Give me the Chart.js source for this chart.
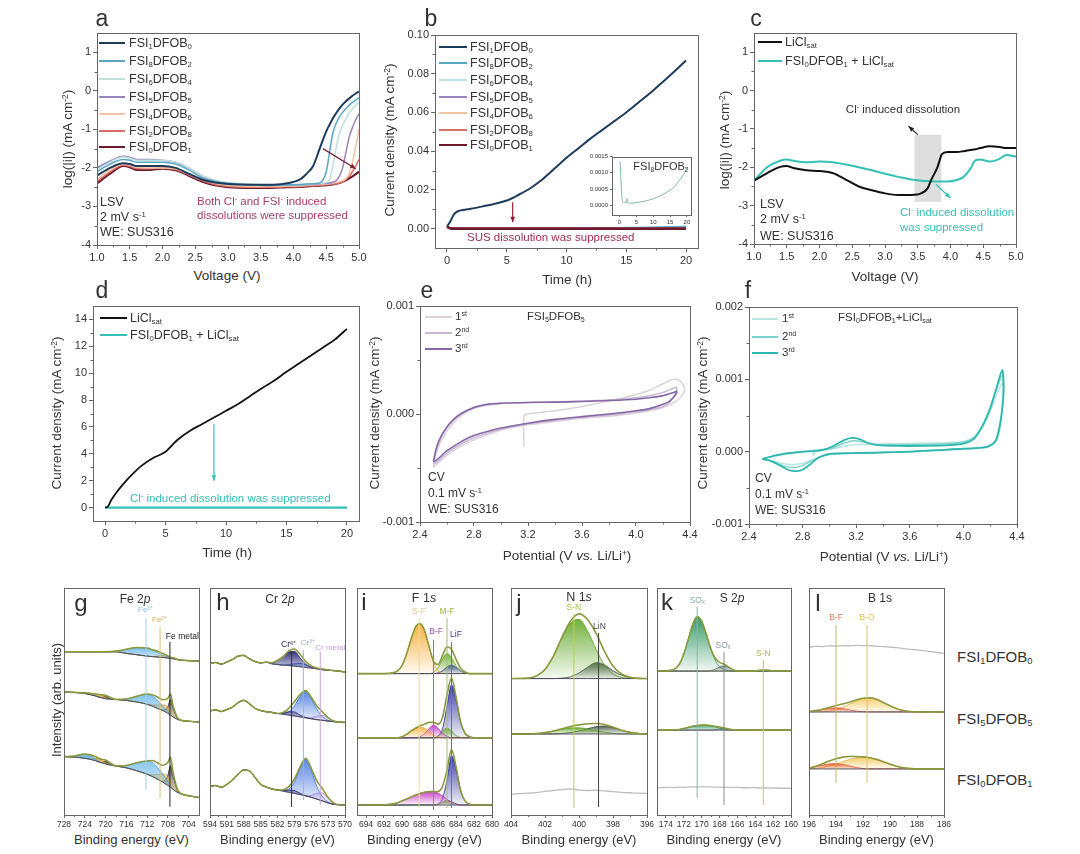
<!DOCTYPE html>
<html><head><meta charset="utf-8">
<script src="https://cdn.jsdelivr.net/npm/chart.js@4.4.1/dist/chart.umd.min.js"></script>
<style>
body{margin:0;background:#fff;width:1080px;height:854px;position:relative;overflow:hidden;font-family:"Liberation Sans",Arial,sans-serif;color:#333}
canvas{position:absolute}
.t{position:absolute;white-space:nowrap;line-height:1}
sup{font-size:62%;vertical-align:0.55em;line-height:0}
sub{font-size:62%;vertical-align:-0.3em;line-height:0}
.ln{position:absolute}
</style></head><body>
<script>
// ---------- panel a : LSV ----------
const aV=[1.0,1.2,1.4,1.5,1.6,1.8,2.0,2.2,2.4,2.6,2.8,3.0,3.3,3.6,3.9,4.1,4.2,4.3,4.4,4.5,4.55,4.6,4.65,4.7,4.75,4.8,4.85,4.9,4.95,5.0];
const aNames=['FSI<sub>1</sub>DFOB<sub>0</sub>','FSI<sub>8</sub>DFOB<sub>2</sub>','FSI<sub>6</sub>DFOB<sub>4</sub>','FSI<sub>5</sub>DFOB<sub>5</sub>','FSI<sub>4</sub>DFOB<sub>6</sub>','FSI<sub>2</sub>DFOB<sub>8</sub>','FSI<sub>0</sub>DFOB<sub>1</sub>'];
const a1=[-2.2,-2.0,-1.88,-1.9,-1.95,-1.95,-1.95,-2.0,-2.15,-2.3,-2.38,-2.42,-2.44,-2.44,-2.4,-2.3,-2.15,-1.95,-1.5,-1.05,-0.88,-0.72,-0.58,-0.46,-0.36,-0.27,-0.2,-0.13,-0.07,-0.02];
const a2=[-2.1,-1.9,-1.78,-1.8,-1.85,-1.85,-1.85,-1.9,-2.05,-2.25,-2.35,-2.4,-2.43,-2.45,-2.44,-2.43,-2.42,-2.41,-2.39,-2.1,-1.6,-1.1,-0.85,-0.68,-0.56,-0.46,-0.37,-0.3,-0.24,-0.18];
const a3=[-2.05,-1.85,-1.72,-1.75,-1.8,-1.8,-1.8,-1.85,-2.0,-2.2,-2.32,-2.38,-2.42,-2.44,-2.44,-2.43,-2.42,-2.41,-2.4,-2.38,-2.3,-1.95,-1.5,-1.1,-0.9,-0.72,-0.58,-0.47,-0.38,-0.3];
const a4=[-2.0,-1.82,-1.7,-1.72,-1.78,-1.78,-1.8,-1.85,-2.0,-2.2,-2.33,-2.4,-2.44,-2.46,-2.45,-2.44,-2.43,-2.42,-2.41,-2.4,-2.39,-2.37,-2.33,-2.22,-2.0,-1.6,-1.2,-0.95,-0.75,-0.6];
const a5=[-2.3,-2.05,-1.9,-1.92,-1.98,-2.0,-2.0,-2.02,-2.15,-2.3,-2.4,-2.45,-2.48,-2.48,-2.47,-2.46,-2.45,-2.44,-2.43,-2.42,-2.41,-2.4,-2.38,-2.36,-2.33,-2.28,-2.15,-1.85,-1.45,-1.0];
const a6=[-2.35,-2.1,-1.93,-1.96,-2.02,-2.02,-2.0,-2.04,-2.18,-2.33,-2.43,-2.48,-2.5,-2.5,-2.49,-2.48,-2.47,-2.46,-2.45,-2.44,-2.43,-2.42,-2.41,-2.39,-2.36,-2.3,-2.22,-2.1,-1.95,-1.78];
const a7=[-2.4,-2.15,-1.95,-1.98,-2.05,-2.05,-2.02,-2.06,-2.2,-2.35,-2.45,-2.5,-2.52,-2.52,-2.5,-2.49,-2.48,-2.47,-2.46,-2.45,-2.44,-2.43,-2.41,-2.39,-2.36,-2.32,-2.27,-2.22,-2.16,-2.1];
const aCols=['#1d3c5c','#5aa6c6','#bfe0dc','#9a84bc','#f2c4a4','#d9706a','#6e1a2c'];
const aW=[2,1.5,1.5,1.5,1.5,1.5,2.2];
const vTicks=[1.0,1.5,2.0,2.5,3.0,3.5,4.0,4.5,5.0];
const vLabels=['1.0','1.5','2.0','2.5','3.0','3.5','4.0','4.5','5.0'];
const logTicks=[-4,-3,-2,-1,0,1];
const logLabels=['-4','-3','-2','-1','0','1'];

// ---------- panel b : chronoamperometry ----------
const bT=[0,0.3,0.6,1,1.5,2,3,4,5,6,7,8,9,10,11,12,13,14,15,16,17,18,19,20];
const b1=[0.001,0.004,0.0075,0.0092,0.0098,0.0103,0.0115,0.0128,0.0145,0.0175,0.021,0.0255,0.031,0.0366,0.0415,0.0465,0.051,0.0555,0.060,0.065,0.070,0.0755,0.081,0.0868];
const b2=[0.0013,0.0003,0.0001,0.0001,0.0001,0.0001,0.0001,0.0001,0.0001,0.00012,0.00014,0.00017,0.0002,0.00025,0.0003,0.00035,0.0004,0.00047,0.00055,0.00063,0.00073,0.00085,0.00098,0.0011];
const b3=[0.001,0.0002,0.0001,0.0001,0.0001,0.0001,0.0001,0.0001,0.0001,0.0001,0.0001,0.0001,0.0001,0.0001,0.0001,0.00012,0.00013,0.00014,0.00016,0.00018,0.0002,0.00022,0.00025,0.0003];
const b4=[0.001,0.0001,0.00005,0.00005,0.00005,0.00005,0.00005,0.00005,0.00005,0.00005,0.00005,0.00005,0.00005,0.00005,0.00005,0.00005,0.00005,0.00006,0.00006,0.00007,0.00008,0.00009,0.0001,0.00012];
const b5=[0.001,0.0001,0.00004,0.00004,0.00004,0.00004,0.00004,0.00004,0.00004,0.00004,0.00004,0.00004,0.00004,0.00004,0.00004,0.00004,0.00004,0.00004,0.00004,0.00005,0.00005,0.00005,0.00006,0.00006];
const b6=[0.001,0.0001,0.00003,0.00003,0.00003,0.00003,0.00003,0.00003,0.00003,0.00003,0.00003,0.00003,0.00003,0.00003,0.00003,0.00003,0.00003,0.00003,0.00003,0.00003,0.00003,0.00003,0.00003,0.00003];
const b7=[0.001,0.0001,0.00002,0.00002,0.00002,0.00002,0.00002,0.00002,0.00002,0.00002,0.00002,0.00002,0.00002,0.00002,0.00002,0.00002,0.00002,0.00002,0.00002,0.00002,0.00002,0.00002,0.00002,0.00002];
const bInT=[0.2,0.4,0.7,1,1.5,2,2.2,2.5,3,4,5,6,8,10,12,14,16,18,19,20];
const bInV=[0.00135,0.0009,0.0003,0.0001,0.00008,0.00009,0.0002,0.00008,0.00006,0.00007,0.00008,0.0001,0.00014,0.0002,0.00029,0.0004,0.00055,0.0008,0.00095,0.00115];
const tTicks=[0,5,10,15,20];
const tLabels=['0','5','10','15','20'];
const bYTicks=[0,0.02,0.04,0.06,0.08,0.10];
const bYLabels=['0.00','0.02','0.04','0.06','0.08','0.10'];
const bInYTicks=[0,0.0005,0.001,0.0015];
const bInYLabels=['0.0000','0.0005','0.0010','0.0015'];

// ---------- panel c ----------
const cV=[1.0,1.2,1.4,1.5,1.6,1.8,2.0,2.2,2.4,2.6,2.8,3.0,3.2,3.4,3.55,3.65,3.7,3.8,3.87,3.95,4.1,4.2,4.3,4.38,4.45,4.6,4.75,4.85,5.0];
const cLiCl=[-2.35,-2.15,-1.99,-1.97,-2.02,-2.08,-2.1,-2.15,-2.32,-2.5,-2.6,-2.68,-2.72,-2.72,-2.68,-2.55,-2.35,-2.0,-1.66,-1.6,-1.6,-1.58,-1.55,-1.53,-1.5,-1.45,-1.47,-1.5,-1.5];
const cMix=[-2.35,-2.0,-1.83,-1.8,-1.83,-1.87,-1.85,-1.87,-1.93,-2.0,-2.08,-2.17,-2.25,-2.32,-2.35,-2.36,-2.37,-2.37,-2.37,-2.37,-2.33,-2.25,-2.05,-1.82,-1.8,-1.85,-1.78,-1.68,-1.72];

// ---------- panel d ----------
const dT=[0,0.2,0.5,1,1.5,2,2.5,3,4,5,5.5,6,7,8,9,10,11,12,13,14,15,16,17,18,19,20];
const dLiCl=[0,0.05,0.55,1.2,1.75,2.25,2.7,3.1,3.7,4.15,4.6,5.05,5.7,6.2,6.7,7.2,7.7,8.3,8.9,9.45,10.1,10.7,11.3,11.9,12.5,13.3];
const dMixT=[0,20];
const dMix=[0,0];
const dYTicks=[0,2,4,6,8,10,12,14];
const dYLabels=['0','2','4','6','8','10','12','14'];

// ---------- panel e (CV, FSI5DFOB5) ----------
const eC1=[[3.17,-0.0003],[3.17,-0.00002],[3.2,0.0],[3.4,0.00003],[3.6,0.00007],[3.8,0.00012],[4.0,0.00018],[4.1,0.00022],[4.2,0.00028],[4.25,0.00031],[4.3,0.00032],[4.34,0.00029],[4.36,0.00022],[4.34,0.00017],[4.3,0.00012],[4.2,0.00006],[4.1,0.00003],[4.0,0.00001],[3.8,-0.00002],[3.6,-0.00004],[3.4,-0.00007],[3.2,-0.0001],[3.0,-0.00015],[2.8,-0.00024],[2.7,-0.0003],[2.6,-0.00038],[2.52,-0.00047],[2.5,-0.00049],[2.52,-0.00036],[2.56,-0.00024],[2.62,-0.00012],[2.7,-0.00002],[2.8,0.00005],[2.9,0.00008],[3.0,0.00009]];
const eC2=[[2.5,-0.00046],[2.52,-0.00034],[2.55,-0.00023],[2.6,-0.00012],[2.65,-0.00005],[2.7,0.0],[2.8,0.00006],[2.9,0.00009],[3.0,0.0001],[3.2,0.000107],[3.4,0.00011],[3.6,0.00012],[3.8,0.00013],[4.0,0.00015],[4.1,0.00017],[4.2,0.0002],[4.28,0.00024],[4.3,0.00025],[4.3,0.00021],[4.25,0.00011],[4.2,0.00007],[4.1,0.00004],[4.0,0.00002],[3.8,-0.00001],[3.6,-0.00003],[3.4,-0.00006],[3.2,-0.00009],[3.0,-0.00014],[2.8,-0.00022],[2.7,-0.00028],[2.6,-0.00036],[2.52,-0.00045],[2.5,-0.00046]];
const eC3=[[2.5,-0.00044],[2.52,-0.00032],[2.55,-0.00022],[2.6,-0.00012],[2.65,-0.00005],[2.7,0.0],[2.8,0.00006],[2.9,0.00009],[3.0,0.0001],[3.2,0.000107],[3.4,0.00011],[3.6,0.000116],[3.8,0.000125],[4.0,0.000137],[4.1,0.00015],[4.2,0.00017],[4.28,0.0002],[4.3,0.00021],[4.3,0.00019],[4.25,0.00012],[4.2,0.00009],[4.1,0.00005],[4.0,0.00003],[3.8,0.0],[3.6,-0.000024],[3.4,-0.00005],[3.2,-0.000085],[3.0,-0.00013],[2.8,-0.0002],[2.7,-0.00026],[2.6,-0.00034],[2.52,-0.00043],[2.5,-0.00044]];
const pTicks=[2.4,2.8,3.2,3.6,4.0,4.4];
const pLabels=['2.4','2.8','3.2','3.6','4.0','4.4'];
const eYTicks=[-0.001,0,0.001];
const eYLabels=['-0.001','0.000','0.001'];

// ---------- panel f (CV, FSI0DFOB1 + LiCl) ----------
const fC1=[[2.88,0.00002],[2.88,-0.00005],[2.9,0.0],[3.0,0.00003],[3.1,0.00007],[3.2,0.0001],[3.3,0.0001],[3.5,0.00011],[3.8,0.00012],[4.0,0.00014],[4.08,0.0002],[4.15,0.00036],[4.2,0.00055],[4.25,0.0008],[4.29,0.00095],[4.3,0.0008],[4.29,0.00055],[4.27,0.0003],[4.24,0.00013],[4.18,0.00006],[4.1,0.00005],[4.0,0.00004],[3.6,0.0],[3.2,-0.00002],[3.0,-0.00004],[2.9,-0.00009],[2.8,-0.00016],[2.72,-0.00018],[2.64,-0.00016],[2.58,-0.00013],[2.5,-0.0001],[2.6,-0.00006],[2.7,-0.00003],[2.8,-0.00001]];
const fC2=[[2.5,-0.0001],[2.6,-0.00005],[2.7,-0.00002],[2.8,0.0],[2.9,0.00002],[3.0,0.00004],[3.1,0.00011],[3.18,0.00015],[3.26,0.00013],[3.35,0.0001],[3.7,0.0001],[3.9,0.00011],[4.0,0.00013],[4.08,0.0002],[4.15,0.00038],[4.2,0.0006],[4.25,0.00088],[4.29,0.00105],[4.3,0.00085],[4.29,0.0006],[4.27,0.00033],[4.24,0.00014],[4.18,0.00007],[4.1,0.00005],[4.0,0.00004],[3.6,0.0],[3.2,-0.00002],[3.0,-0.00004],[2.9,-0.0001],[2.8,-0.00019],[2.74,-0.00022],[2.66,-0.0002],[2.6,-0.00015],[2.55,-0.00012],[2.5,-0.0001]];
const fC3=[[2.5,-0.0001],[2.6,-0.00005],[2.7,-0.00002],[2.8,0.0],[2.9,0.00001],[2.98,0.00004],[3.05,0.0001],[3.11,0.00016],[3.17,0.00019],[3.23,0.00017],[3.29,0.00012],[3.36,0.00009],[3.5,0.00008],[3.7,0.00008],[3.9,0.00009],[4.0,0.00011],[4.08,0.00018],[4.14,0.00035],[4.2,0.0006],[4.25,0.0009],[4.29,0.00113],[4.3,0.0009],[4.29,0.0006],[4.27,0.00035],[4.24,0.00015],[4.18,0.00007],[4.1,0.00005],[4.0,0.00004],[3.6,0.0],[3.2,-0.00002],[3.0,-0.00003],[2.92,-0.00008],[2.86,-0.00017],[2.8,-0.00025],[2.75,-0.00027],[2.69,-0.00025],[2.62,-0.00018],[2.55,-0.00012],[2.5,-0.0001]];
const fYTicks=[-0.001,0,0.001,0.002];
const fYLabels=['-0.001','0.000','0.001','0.002'];

// ---------- XPS g : Fe 2p ----------
const gX=[728,726,724,722,721,720,718,716,714,712,711,710,709,708,707.5,707,706,704,702];
const gBase1=[71.9,71.9,71.9,71.9,71.9,71.9,71.9,71.2,70.6,70.0,69.8,69.6,69.4,69.2,69.0,68.8,68.4,68.0,67.8];
const gBase2=[54.2,54.0,53.5,52.5,51.8,51.2,50.9,50.5,49.8,48.8,48.0,47.0,46.0,44.8,44.0,43.2,42.0,41.3,41.0];
const gBase3=[25.7,25.5,25.0,24.0,23.2,22.5,21.6,20.8,19.5,18.0,17.0,15.8,14.5,13.0,12.2,11.3,9.8,8.5,7.7];
const gFe3_1=[[718,0.3],[716,1.8],[714,3.2],[712,3.6],[711,3.0],[710,2.0],[709,1.0],[708,0.4]];
const gFe2_1=[[710,0.5],[709,0.7],[708,0.5]];
const gMet_1=[[707.5,0.4],[707,0.5]];
const gFe3_2=[[724,0.3],[716,0.6],[714,2.5],[712,4.5],[711,4.5],[710,3.5],[709,2.0],[708,0.8],[707.5,0.3]];
const gFe2_2=[[722,0.8],[721,1.2],[720,0.5],[711,0.5],[710,1.5],[709,2.5],[708,2.8],[707.5,2.0],[707,1.0],[706,0.2]];
const gMet_2=[[720,1.0],[709,0.3],[708,3.0],[707.5,7.0],[707,4.0],[706,0.3]];
const gFe3_3=[[726,0.5],[724,1.8],[722,0.8],[716,1.0],[714,3.5],[712,5.8],[711,6.2],[710,5.2],[709,3.5],[708,1.6],[707.5,0.7]];
const gFe2_3=[[722,1.0],[721,1.5],[720,0.5],[711,0.8],[710,2.0],[709,3.5],[708,4.0],[707.5,3.0],[707,1.5],[706,0.3]];
const gMet_3=[[720,1.2],[709,0.4],[708,4.5],[707.5,9.5],[707,6.0],[706,0.5]];
const gTicks=[728,724,720,716,712,708,704];

// ---------- XPS h : Cr 2p ----------
const hX=[594,593,592,591,590,589,588,587,586,585,584,583,582,581,580,579,578,577,576,575,574,573,572,571,570];
const hBase1=[66.8,67.2,66.5,67.4,68.5,70.0,70.3,68.8,67.6,67.0,67.3,66.6,66.3,66.0,65.8,65.6,65.3,65.0,64.7,64.4,64.0,63.8,63.6,63.4,63.0];
const hBase2=[45.8,46.3,45.6,46.5,47.5,49.5,50.5,49.0,47.0,46.0,45.5,45.2,44.7,44.4,44.0,43.6,43.2,42.8,42.4,42.0,41.7,41.4,41.1,40.9,40.8];
const hBase3=[12.5,13.0,12.2,13.5,15.5,18.0,19.8,19.5,16.5,13.5,12.3,11.5,11.0,10.5,10.0,9.5,9.0,8.4,7.8,7.0,6.2,5.3,4.7,4.5,4.4];
const hCr6_1=[[583,0.5],[582,1.8],[581,3.8],[580,6.0],[579,6.5],[578,4.0],[577,1.5],[576,0.4]];
const hCr3_1=[[580,0.5],[579,1.0],[578,1.5],[577,1.2],[576,0.6],[575,0.2]];
const hMet_1=[[575,0.2],[574,0.3],[573,0.1]];
const hCr6_2=[[581,0.5],[580,1.5],[579,1.8],[578,0.8],[577,0.2]];
const hCr3_2=[[581,0.3],[580,1.5],[579,4.5],[578,9.0],[577,11.8],[576,9.0],[575,4.5],[574,1.5],[573,0.3]];
const hMet_2=[[576,0.5],[575,1.5],[574,2.2],[573,1.2],[572,0.3]];
const hCr6_3=[[581,0.3],[580,1.0],[579,1.3],[578,0.6],[577,0.1]];
const hCr3_3=[[581,0.3],[580,1.5],[579,5.0],[578,11.5],[577,16.5],[576,12.0],[575,5.5],[574,1.8],[573,0.4]];
const hMet_3=[[576,0.8],[575,2.5],[574,3.5],[573,2.0],[572,0.5]];
const hTicks=[594,591,588,585,582,579,576,573,570];

// ---------- XPS i : F 1s ----------
const iX=[695,692,691,690.5,690,689.5,689,688.5,688,687.5,687,686.5,686,685.5,685,684.5,684,683.5,683,682.5,682,680];
const iBases=[62.3,34.0,4.4];
const iSF1=[[691,0.3],[690.5,1.2],[690,3.5],[689.5,8.5],[689,15],[688.5,20.5],[688,22],[687.5,19],[687,12],[686.5,5],[686,1.2],[685.5,0.2]];
const iMF1=[[686.5,0.5],[686,2.5],[685.5,6.5],[685,8.8],[684.5,7],[684,3.5],[683.5,1.2],[683,0.3]];
const iLiF1=[[686,0.3],[685.5,1.2],[685,3],[684.5,3.7],[684,2.8],[683.5,1.3],[683,0.4]];
const iSF2=[[690,0.5],[689.5,1.5],[689,3],[688.5,4.2],[688,4.8],[687.5,4.2],[687,2.8],[686.5,1.2],[686,0.4]];
const iBF2=[[688,0.5],[687.5,1.8],[687,4],[686.5,5.6],[686,4.2],[685.5,2],[685,0.6]];
const iMF2=[[686,0.8],[685.5,3],[685,4.3],[684.5,3],[684,1],[683.5,0.2]];
const iLiF2=[[686,0.6],[685.5,4],[685,14],[684.5,23.3],[684,17],[683.5,7],[683,2],[682.5,0.5]];
const iBF3=[[691,0.5],[690.5,1],[690,1.8],[689.5,2.6],[689,3.5],[688.5,4.4],[688,5.1],[687.5,5.6],[687,5.9],[686.5,5.9],[686,5.2],[685.5,4],[685,2.5],[684.5,1.2],[684,0.4]];
const iMF3=[[686,0.3],[685.5,1.2],[685,2],[684.5,1.5],[684,0.6]];
const iLiF3=[[686,0.4],[685.5,3],[685,11],[684.5,21.7],[684,16],[683.5,6.5],[683,1.8],[682.5,0.4]];
const iTicks=[694,692,690,688,686,684,682,680];

// ---------- XPS j : N 1s ----------
const jX=[404,403,402.5,402,401.5,401,400.5,400,399.5,399,398.5,398,397.5,397,396.5,396];
const jBases=[60.1,35.7];
const jSN1=[[403,0.2],[402.5,1.2],[402,4],[401.5,10],[401,18],[400.5,24.5],[400,26],[399.5,21],[399,13],[398.5,6],[398,2],[397.5,0.5],[397,0.1]];
const jLiN1=[[401,0.2],[400.5,0.8],[400,2.5],[399.5,5],[399,7],[398.5,6],[398,3.5],[397.5,1.5],[397,0.5],[396.5,0.1]];
const jSN2=[[402.5,0.2],[402,0.6],[401.5,1.3],[401,2.1],[400.5,2.7],[400,2.7],[399.5,2.2],[399,1.4],[398.5,0.7],[398,0.3]];
const jLiN2=[[401,0.2],[400.5,0.6],[400,1.3],[399.5,2.3],[399,3.2],[398.5,3.5],[398,2.8],[397.5,1.6],[397,0.7],[396.5,0.2]];
const jRaw3=[9.2,9.6,9.9,10.4,10.8,11.2,11.5,11.0,10.8,10.9,10.6,10.3,10.0,9.8,9.6,9.5];
const jTicks=[404,402,400,398,396];

// ---------- XPS k : S 2p ----------
const kX=[175,173.5,173,172.5,172,171.5,171,170.5,170,169.5,169,168.5,168,167.5,167,166.5,166,165,164,163.5,163,162.5,162,160];
const kBases=[63.4,37.4];
const kSO1=[[173.5,0.3],[173,1],[172.5,3],[172,7.5],[171.5,14],[171,20.5],[170.5,24],[170,22],[169.5,16.5],[169,10],[168.5,5],[168,2],[167.5,0.8],[167,0.2]];
const kSOx1=[[169,0.2],[168.5,0.8],[168,1.8],[167.5,2.3],[167,1.6],[166.5,0.6],[166,0.1]];
const kSN1=[[164,0.1],[163.5,0.3],[163,0.4],[162.5,0.3],[162,0.1]];
const kSO2=[[173,0.1],[172.5,0.3],[172,0.7],[171.5,1.2],[171,1.7],[170.5,2.0],[170,2.2],[169.5,2.2],[169,2.0],[168.5,1.5],[168,0.9],[167.5,0.4],[167,0.1]];
const kSOx2=[[168.5,0.2],[168,0.5],[167.5,0.6],[167,0.4],[166.5,0.1]];
const kRaw3=[12.0,12.2,12.1,12.3,12.2,12.3,12.4,12.3,12.5,12.4,12.4,12.3,12.3,12.2,12.3,12.1,12.2,12.0,12.1,11.9,12.0,11.8,11.9,11.7];
const kTicks=[174,172,170,168,166,164,162,160];

// ---------- XPS l : B 1s ----------
const lX=[196,195.5,195,194.5,194,193.5,193,192.5,192,191.5,191,190.5,190,189.5,189,188.5,188,187,186];
const lRaw1=[74.0,74.3,74.2,74.5,74.4,74.6,74.5,74.7,74.6,74.6,74.3,74.2,73.9,73.7,73.3,73.0,72.7,72.0,71.2];
const lBases=[45.4,20.3];
const lBF2=[[196,0.2],[195.5,0.6],[195,1.1],[194.5,1.6],[194,1.8],[193.5,1.5],[193,0.9],[192.5,0.4],[192,0.1]];
const lBO2=[[195,0.1],[194.5,0.4],[194,1.0],[193.5,2.0],[193,3.4],[192.5,4.9],[192,5.9],[191.5,6.2],[191,5.6],[190.5,4.2],[190,2.7],[189.5,1.4],[189,0.6],[188.5,0.2]];
const lBF3=[[196,0.4],[195.5,1.0],[195,1.7],[194.5,2.2],[194,2.3],[193.5,2.0],[193,1.3],[192.5,0.6],[192,0.2]];
const lBO3=[[195.5,0.2],[195,0.6],[194.5,1.3],[194,2.2],[193.5,3.2],[193,4.2],[192.5,4.8],[192,5.1],[191.5,4.9],[191,4.2],[190.5,3.2],[190,2.1],[189.5,1.2],[189,0.5],[188.5,0.2]];
const lTicks=[196,194,192,190,188,186];

// ================= rendering helpers =================
Chart.defaults.font.family='"Liberation Sans", Arial, sans-serif';
Chart.defaults.color='#333';

function arrowHead(ctx,x1,y1,x2,y2,col){
  const a=Math.atan2(y2-y1,x2-x1),L=6;
  ctx.fillStyle=col;ctx.beginPath();ctx.moveTo(x2,y2);
  ctx.lineTo(x2-L*Math.cos(a-0.4),y2-L*Math.sin(a-0.4));
  ctx.lineTo(x2-L*Math.cos(a+0.4),y2-L*Math.sin(a+0.4));ctx.closePath();ctx.fill();
}
const FR={id:'fr',
  beforeDatasetsDraw(ch){const e=ch.canvas._ext;if(!e)return;const ctx=ch.ctx,X=ch.scales.x,Y=ch.scales.y,A=ch.chartArea;
    ctx.save();
    if(e.bg){ctx.fillStyle='#fff';ctx.fillRect(A.left,A.top,A.right-A.left,A.bottom-A.top);}
    if(e.shade){const s=e.shade;const x1=X.getPixelForValue(s.x[0]),x2=X.getPixelForValue(s.x[1]),y1=Y.getPixelForValue(s.y[1]),y2=Y.getPixelForValue(s.y[0]);
      ctx.fillStyle=s.c;ctx.fillRect(Math.min(x1,x2),y1,Math.abs(x2-x1),y2-y1);}
    ctx.restore();},
  afterDatasetsDraw(ch){const e=ch.canvas._ext;if(!e)return;const ctx=ch.ctx,X=ch.scales.x,Y=ch.scales.y;
    ctx.save();
    (e.vl||[]).forEach(v=>{ctx.strokeStyle=v[3];ctx.lineWidth=1;ctx.beginPath();const px=X.getPixelForValue(v[0]);
      ctx.moveTo(px,Y.getPixelForValue(v[1]));ctx.lineTo(px,Y.getPixelForValue(v[2]));ctx.stroke();});
    (e.lab||[]).forEach(l=>{ctx.fillStyle=l[3];ctx.font=(l[4]||8)+'px "Liberation Sans", Arial, sans-serif';ctx.textAlign='center';ctx.textBaseline='middle';
      ctx.fillText(l[2],X.getPixelForValue(l[0]),Y.getPixelForValue(l[1]));});
    (e.ar||[]).forEach(r=>{const x1=X.getPixelForValue(r[0]),y1=Y.getPixelForValue(r[1]),x2=X.getPixelForValue(r[2]),y2=Y.getPixelForValue(r[3]);
      ctx.strokeStyle=r[4];ctx.lineWidth=1.2;ctx.beginPath();ctx.moveTo(x1,y1);ctx.lineTo(x2,y2);ctx.stroke();arrowHead(ctx,x1,y1,x2,y2,r[4]);});
    ctx.restore();},
  afterDraw(ch){const e=ch.canvas._ext;if(!e)return;const ctx=ch.ctx,X=ch.scales.x,Y=ch.scales.y,A=ch.chartArea;
    ctx.save();ctx.strokeStyle='#666';ctx.lineWidth=1;
    ctx.strokeRect(Math.round(A.left)+0.5,Math.round(A.top)+0.5,Math.round(A.right-A.left),Math.round(A.bottom-A.top));
    const ml=e.ml||2.5;
    (e.mx||[]).forEach(v=>{const p=Math.round(X.getPixelForValue(v))+0.5;ctx.beginPath();ctx.moveTo(p,A.bottom);ctx.lineTo(p,A.bottom+ml);ctx.stroke();});
    (e.my||[]).forEach(v=>{const p=Math.round(Y.getPixelForValue(v))+0.5;ctx.beginPath();ctx.moveTo(A.left,p);ctx.lineTo(A.left-ml,p);ctx.stroke();});
    ctx.restore();}
};
Chart.register(FR);

function ln(X,Y,col,w,opt){return Object.assign({data:X.map((x,i)=>({x:x,y:Y[i]})),borderColor:col,backgroundColor:col,borderWidth:w,pointRadius:0,showLine:true,fill:false,cubicInterpolationMode:'monotone'},opt||{});}
function lp(P,col,w,opt){return Object.assign({data:P.map(p=>({x:p[0],y:p[1]})),borderColor:col,backgroundColor:col,borderWidth:w,pointRadius:0,showLine:true,fill:false,tension:0.25},opt||{});}
function axis(min,max,ticks,labels,font,extra){
  return Object.assign({type:'linear',min:min,max:max,
    afterBuildTicks:s=>{s.ticks=ticks.map(v=>({value:v}));},
    ticks:{autoSkip:false,maxRotation:0,minRotation:0,padding:2,font:{size:font},color:'#333',callback:(v,i)=>labels[i]},
    grid:{drawOnChartArea:false,drawTicks:true,tickLength:font<9?3:4,color:'#666',tickWidth:1},
    border:{display:true,color:'#666'}},extra||{});
}
function mk(box,o){
  const padL=o.padL,padT=o.padT||10,padR=o.padR||16,padB=o.padB||22;
  const W=box.r-box.l+padL+padR,H=box.b-box.t+padT+padB;
  const c=document.createElement('canvas');
  c.width=W;c.height=H;c.style.left=(box.l-padL)+'px';c.style.top=(box.t-padT)+'px';c.style.width=W+'px';c.style.height=H+'px';
  document.body.appendChild(c);
  c._ext=o.ext||{};
  const xs=o.x;xs.afterFit=s=>{s.height=padB;};
  let ys=o.y;const lpad={top:padT,right:padR,bottom:0,left:0};
  if(ys){ys.afterFit=s=>{s.width=padL;};}else{ys={display:false,min:0,max:100};lpad.left=padL;}
  return new Chart(c,{type:'scatter',data:{datasets:o.ds},options:{responsive:false,animation:false,events:[],devicePixelRatio:1,
    layout:{padding:lpad},plugins:{legend:{display:false},tooltip:{enabled:false}},scales:{x:xs,y:ys}}});
}
function T(x,y,html,o){o=o||{};const d=document.createElement('div');d.className='t';d.innerHTML=html;
  d.style.left=x+'px';d.style.top=y+'px';d.style.fontSize=(o.s||12)+'px';if(o.c)d.style.color=o.c;
  let tr=o.a==='c'?'translate(-50%,-50%)':'translate(0,-50%)';if(o.r)tr='translate(-50%,-50%) rotate(-90deg)';
  d.style.transform=tr;document.body.appendChild(d);}
function L(x1,x2,y,col,w){const d=document.createElement('div');d.className='ln';d.style.left=x1+'px';d.style.width=(x2-x1)+'px';
  d.style.top=(y-w/2)+'px';d.style.height=w+'px';d.style.background=col;document.body.appendChild(d);}

function pairArr(X,pairs){const m=new Map(pairs.map(p=>[p[0],p[1]]));return X.map(x=>m.has(x)?m.get(x):0);}
// vertical gradient fill: strong colour at the peak top fading toward its baseline
function gradFill(rgb,yv,base){
  const top=Math.max.apply(null,yv),bot=Math.min.apply(null,base);
  return function(c){const ch=c.chart,Y=ch.scales&&ch.scales.y;if(!Y||!ch.chartArea)return 'rgba('+rgb+',0.5)';
    const p1=Y.getPixelForValue(top);let p2=Y.getPixelForValue(bot);if(Math.abs(p2-p1)<1)p2=p1+1;
    const g=ch.ctx.createLinearGradient(0,p1,0,p2);g.addColorStop(0,'rgba('+rgb+',0.9)');g.addColorStop(1,'rgba('+rgb+',0.06)');return g;};
}
function xps(X,rows){
  const ds=[];
  rows.forEach(r=>{
    const base=Array.isArray(r.base)?r.base:X.map(()=>r.base);
    const bi=ds.length;
    ds.push(ln(X,base,r.comps?'#4c4c5e':'#bdbdbd',r.comps?1:1.3,{order:1}));
    if(!r.comps)return;
    const env=base.slice();
    r.comps.forEach(cm=>{const h=pairArr(X,cm[0]);const y=base.map((b,i)=>b+h[i]);h.forEach((v,i)=>{env[i]+=v;});
      ds.push(ln(X,y,cm[1],0.8,{fill:bi,backgroundColor:gradFill(cm[2],y,base),order:2}));});
    ds.push(ln(X,env,'#8a9a3c',1.6,{order:0}));
  });
  return ds;
}
const C={fe3:['#4a9fd0','100,180,232'],fe2:['#d8a030','238,178,60'],fem:['#222','35,35,35'],
  cr6:['#23235a','30,30,110'],cr3:['#3a6fd0','70,120,225'],crm:['#b080d8','195,150,235'],
  sf:['#e8a030','246,168,45'],bf:['#b030b0','195,55,195'],mf:['#6aa030','105,172,45'],lif:['#2a2a90','40,40,160'],
  sn:['#5a9a20','100,168,40'],lin:['#3a4a3a','60,80,60'],so:['#2a8a50','30,145,85'],sox:['#6a7a7a','105,125,125'],
  ksn:['#b0b040','200,200,80'],lbf:['#e05030','236,88,48'],lbo:['#e0b040','246,200,88']};
function cp(p,k){return [p,C[k][0],C[k][1]];}

// ================= top row =================
const aSeries=[a1,a2,a3,a4,a5,a6,a7];
mk({l:97,r:359,t:33,b:245},{padL:46,
  x:axis(1,5,vTicks,vLabels,11),y:axis(-4,1.5,logTicks,logLabels,11),
  ds:aSeries.map((s,i)=>ln(aV,s,aCols[i],aW[i])),
  ext:{mx:[1.25,1.75,2.25,2.75,3.25,3.75,4.25,4.75],my:[-3.5,-2.5,-1.5,-0.5,0.5],ar:[[4.45,-1.5,4.95,-2.02,'#7a2030']]}});

const bSeries=[b1,b2,b3,b4,b5,b6,b7];
mk({l:435,r:698,t:35,b:248},{padL:46,
  x:axis(-1,21,tTicks,tLabels,11),y:axis(-0.01,0.10,bYTicks,bYLabels,11),
  ds:bSeries.map((s,i)=>ln(bT,s,aCols[i],aW[i]+(i===6?0.6:0),{order:6-i})),
  ext:{mx:[2.5,7.5,12.5,17.5],my:[0.01,0.03,0.05,0.07,0.09],ar:[[5.5,0.0136,5.5,0.0033,'#8a2038']]}});
mk({l:612,r:691,t:156,b:215},{padL:26,padT:5,padR:5,padB:12,
  x:axis(-2.2,21.2,tTicks,tLabels,6,{grid:{drawOnChartArea:false,drawTicks:true,tickLength:2,color:'#666'}}),
  y:axis(-0.0003,0.0015,bInYTicks,bInYLabels,6,{grid:{drawOnChartArea:false,drawTicks:true,tickLength:2,color:'#666'}}),
  ds:[ln(bInT,bInV,'#7fb8b4',1)],ext:{bg:true}});

mk({l:754,r:1016,t:33,b:244},{padL:46,
  x:axis(1,5,vTicks,vLabels,11),y:axis(-4,1.5,logTicks,logLabels,11),
  ds:[ln(cV,cLiCl,'#111',2),ln(cV,cMix,'#33c1b5',2)],
  ext:{mx:[1.25,1.75,2.25,2.75,3.25,3.75,4.25,4.75],my:[-3.5,-2.5,-1.5,-0.5,0.5],
    shade:{x:[3.45,3.86],y:[-2.9,-1.15],c:'rgba(200,200,200,0.6)'},
    ar:[[3.5,-1.15,3.36,-0.93,'#222'],[3.78,-2.45,4.0,-2.8,'#33c1b5']]}});

// ================= middle row =================
mk({l:93,r:359,t:306,b:521},{padL:46,
  x:axis(-1,21,tTicks,tLabels,11),y:axis(-1,15,dYTicks,dYLabels,11),
  ds:[ln(dT,dLiCl,'#111',1.8),ln(dMixT,dMix,'#33c1b5',2.2)],
  ext:{mx:[2.5,7.5,12.5,17.5],my:[1,3,5,7,9,11,13],ar:[[9,6.2,9,2.0,'#33c1b5']]}});

mk({l:420,r:690,t:306,b:522},{padL:46,
  x:axis(2.4,4.4,pTicks,pLabels,11),y:axis(-0.001,0.001,eYTicks,eYLabels,11),
  ds:[lp(eC3,'#8468a6',1.6),lp(eC2,'#c9b7d6',1.5),lp(eC1,'#ddd2da',1.5)],
  ext:{mx:[2.6,3.0,3.4,3.8,4.2],my:[-0.0005,0.0005]}});

mk({l:749,r:1017,t:307,b:524},{padL:46,
  x:axis(2.4,4.4,pTicks,pLabels,11),y:axis(-0.001,0.002,fYTicks,fYLabels,11),
  ds:[lp(fC3,'#2fb8b0',1.8),lp(fC2,'#7fd3c9',1.5),lp(fC1,'#b8e6e0',1.5)],
  ext:{mx:[2.6,3.0,3.4,3.8,4.2],my:[-0.0005,0.0005,0.0015]}});

// ================= bottom XPS row =================
const xb={t:588,b:815};
function xax(min,max,ticks){return axis(min,max,ticks,ticks.map(String),8.5,{reverse:true});}
mk({l:64,r:199,t:xb.t,b:xb.b},{padL:10,padR:12,padT:4,padB:16,x:xax(702,728,gTicks),
  ds:xps(gX,[{base:gBase1,comps:[cp(gFe3_1,'fe3'),cp(gFe2_1,'fe2'),cp(gMet_1,'fem')]},
             {base:gBase2,comps:[cp(gFe3_2,'fe3'),cp(gFe2_2,'fe2'),cp(gMet_2,'fem')]},
             {base:gBase3,comps:[cp(gFe3_3,'fe3'),cp(gFe2_3,'fe2'),cp(gMet_3,'fem')]}]),
  ext:{mx:[726,722,718,714,710,706],ml:2,
    vl:[[712.2,86.8,11,'#9fd0ea'],[709.5,83,7.3,'#d8c27a'],[707.6,76.3,3.7,'#222']],
    lab:[[712.3,90.3,'Fe³⁺','#8cc4e4',8],[709.6,86.1,'Fe²⁺','#d4b050',8],[705.2,78.5,'Fe metal','#222',8.5]]}});
mk({l:210,r:345,t:xb.t,b:xb.b},{padL:10,padR:12,padT:4,padB:16,x:xax(570,594,hTicks),
  ds:xps(hX,[{base:hBase1,comps:[cp(hCr6_1,'cr6'),cp(hCr3_1,'cr3'),cp(hMet_1,'crm')]},
             {base:hBase2,comps:[cp(hCr6_2,'cr6'),cp(hCr3_2,'cr3'),cp(hMet_2,'crm')]},
             {base:hBase3,comps:[cp(hCr6_3,'cr6'),cp(hCr3_3,'cr3'),cp(hMet_3,'crm')]}]),
  ext:{mx:[592.5,589.5,586.5,583.5,580.5,577.5,574.5,571.5],ml:2,
    vl:[[579.5,71.8,3.5,'#333'],[577.4,72.7,6.6,'#9ab4d4'],[574.4,72.0,4.4,'#c4a4dc']],
    lab:[[580.0,74.9,'Cr⁶⁺','#22224a',8.5],[576.6,75.8,'Cr³⁺','#9ab0d0',8],[572.6,73.6,'Cr metal','#c8a0e8',8]]}});
mk({l:357,r:492,t:xb.t,b:xb.b},{padL:10,padR:12,padT:4,padB:16,x:xax(680,695,iTicks),
  ds:xps(iX,[{base:iBases[0],comps:[cp(iSF1,'sf'),cp(iMF1,'mf'),cp(iLiF1,'lif')]},
             {base:iBases[1],comps:[cp(iSF2,'sf'),cp(iBF2,'bf'),cp(iMF2,'mf'),cp(iLiF2,'lif')]},
             {base:iBases[2],comps:[cp(iBF3,'bf'),cp(iMF3,'mf'),cp(iLiF3,'lif')]}]),
  ext:{mx:[693,691,689,687,685,683,681],ml:2,
    vl:[[688.1,86.8,3.1,'#eadc9a'],[686.5,77.1,2.2,'#a46ab4'],[685.0,86.8,3.1,'#a8b870'],[684.5,76.2,3.1,'#6a6ac4']],
    lab:[[688.1,89.4,'S-F','#eac890',8.5],[686.2,80.6,'B-F','#a050b0',8.5],[685.0,89.4,'M-F','#98b848',8.5],[684.0,79.3,'LiF','#3a3a9a',8.5]]}});
mk({l:511,r:647,t:xb.t,b:xb.b},{padL:10,padR:12,padT:4,padB:16,x:xax(396,404,jTicks),
  ds:xps(jX,[{base:jBases[0],comps:[cp(jSN1,'sn'),cp(jLiN1,'lin')]},
             {base:jBases[1],comps:[cp(jSN2,'sn'),cp(jLiN2,'lin')]},
             {base:jRaw3}]),
  ext:{mx:[403,401,399,397],ml:2,
    vl:[[400.3,88.5,3.1,'#bccc5c'],[398.85,80.2,3.5,'#444']],
    lab:[[400.3,91.2,'S-N','#a4c444',8.5],[398.8,82.8,'LiN','#444',8.5]]}});
mk({l:657,r:791,t:xb.t,b:xb.b},{padL:10,padR:12,padT:4,padB:16,x:xax(160,175,kTicks),
  ds:xps(kX,[{base:kBases[0],comps:[cp(kSO1,'so'),cp(kSOx1,'sox'),cp(kSN1,'ksn')]},
             {base:kBases[1],comps:[cp(kSO2,'so'),cp(kSOx2,'sox')]},
             {base:kRaw3}]),
  ext:{mx:[173,171,169,167,165,163,161],ml:2,
    vl:[[170.5,91.6,7.5,'#8ab4a8'],[167.5,71.8,4.4,'#888'],[163.1,68.3,4.4,'#cac472']],
    lab:[[170.5,94.3,'SOₓ','#80b0b0',8.5],[167.6,74.5,'SOₓ','#8a9aa8',8.5],[163.1,71.0,'S-N','#b4b454',8.5]]}});
mk({l:809,r:944,t:xb.t,b:xb.b},{padL:10,padR:12,padT:4,padB:16,x:xax(186,196,lTicks),
  ds:xps(lX,[{base:lRaw1},
             {base:lBases[0],comps:[cp(lBF2,'lbf'),cp(lBO2,'lbo')]},
             {base:lBases[1],comps:[cp(lBF3,'lbf'),cp(lBO3,'lbo')]}]),
  ext:{mx:[195,193,191,189,187],ml:2,
    vl:[[194.0,83.7,14.1,'#c8b466'],[191.7,83.7,14.1,'#d8c46a']],
    lab:[[194.0,86.8,'B-F','#e08050',8.5],[191.7,86.8,'B-O','#e0c050',8.5]]}});

// ================= text =================
const ff=13.5;
// a
T(102,18,'a',{s:23,a:'c'});
T(68,139,'log(|i|) (mA cm<sup>-2</sup>)',{s:ff,r:1});
T(227,276,'Voltage (V)',{s:ff,a:'c'});
const aLegY=[43,61,79,97,114,131,147];
aNames.forEach((n,i)=>{L(99,125,aLegY[i],aCols[i],aW[i]);T(129,aLegY[i],n,{s:12.5});});
T(100,202,'LSV',{s:12.5});T(100,217,'2 mV s<sup>-1</sup>',{s:12.5});T(100,232,'WE: SUS316',{s:12.5});
T(197,202,'Both Cl<sup>-</sup> and FSI<sup>-</sup> induced',{s:11.5,c:'#a8406a'});
T(197,216,'dissolutions were suppressed',{s:11.5,c:'#a8406a'});
// b
T(431,18,'b',{s:23,a:'c'});
T(390,140,'Current density (mA cm<sup>-2</sup>)',{s:ff,r:1});
T(567,280,'Time (h)',{s:ff,a:'c'});
const bLegY=[47,63,80,97,113,130,145];
aNames.forEach((n,i)=>{L(439,467,bLegY[i],aCols[i],aW[i]);T(470,bLegY[i],n,{s:12.5});});
T(467,238,'SUS dissolution was suppressed',{s:11.5,c:'#a03050'});
T(661,166,'FSI<sub>8</sub>DFOB<sub>2</sub>',{s:11,a:'c'});
// c
T(756,18,'c',{s:23,a:'c'});
T(725,140,'log(|i|) (mA cm<sup>-2</sup>)',{s:ff,r:1});
T(885,277,'Voltage (V)',{s:ff,a:'c'});
L(758,782,42,'#111',2);T(785,42,'LiCl<sub>sat</sub>',{s:12.5});
L(758,782,61,'#33c1b5',2);T(785,61,'FSI<sub>0</sub>DFOB<sub>1</sub> + LiCl<sub>sat</sub>',{s:12.5});
T(903,110,'Cl<sup>-</sup> induced dissolution',{s:11.5,a:'c'});
T(900,213,'Cl<sup>-</sup> induced dissolution',{s:11.5,c:'#33c1b5'});
T(900,228,'was suppressed',{s:11.5,c:'#33c1b5'});
T(760,204,'LSV',{s:12.5});T(760,219,'2 mV s<sup>-1</sup>',{s:12.5});T(760,236,'WE: SUS316',{s:12.5});
// d
T(102,290,'d',{s:23,a:'c'});
T(57,413,'Current density (mA cm<sup>-2</sup>)',{s:ff,r:1});
T(227,553,'Time (h)',{s:ff,a:'c'});
L(100,127,318,'#111',2);T(130,318,'LiCl<sub>sat</sub>',{s:12.5});
L(100,127,335,'#33c1b5',2);T(130,335,'FSI<sub>0</sub>DFOB<sub>1</sub> + LiCl<sub>sat</sub>',{s:12.5});
T(130,499,'Cl<sup>-</sup> induced dissolution was suppressed',{s:11.5,c:'#33c1b5'});
// e
T(427,290,'e',{s:23,a:'c'});
T(375,413,'Current density (mA cm<sup>-2</sup>)',{s:ff,r:1});
T(567,556,'Potential (V <i>vs.</i> Li/Li<sup>+</sup>)',{s:ff,a:'c'});
L(425,452,317,'#ddd2da',1.5);T(455,317,'1<sup>st</sup>',{s:11.5});
L(425,452,333,'#c9b7d6',1.5);T(455,333,'2<sup>nd</sup>',{s:11.5});
L(425,452,349,'#8468a6',1.6);T(455,349,'3<sup>rd</sup>',{s:11.5});
T(527,317,'FSI<sub>5</sub>DFOB<sub>5</sub>',{s:11.5});
T(428,477,'CV',{s:12});T(428,493,'0.1 mV s<sup>-1</sup>',{s:12});T(428,509,'WE: SUS316',{s:12});
// f
T(748,290,'f',{s:23,a:'c'});
T(703,413,'Current density (mA cm<sup>-2</sup>)',{s:ff,r:1});
T(884,557,'Potential (V <i>vs.</i> Li/Li<sup>+</sup>)',{s:ff,a:'c'});
L(752,778,319,'#b8e6e0',1.5);T(782,319,'1<sup>st</sup>',{s:11.5});
L(752,778,337,'#7fd3c9',1.5);T(782,337,'2<sup>nd</sup>',{s:11.5});
L(752,778,353,'#2fb8b0',1.8);T(782,353,'3<sup>rd</sup>',{s:11.5});
T(838,318,'FSI<sub>0</sub>DFOB<sub>1</sub>+LiCl<sub>sat</sub>',{s:11.5});
T(755,478,'CV',{s:12});T(755,494,'0.1 mV s<sup>-1</sup>',{s:12});T(755,510,'WE: SUS316',{s:12});
// bottom
T(56,700,'Intensity (arb. units)',{s:13,r:1});
[[64,199],[210,345],[357,492],[511,647],[657,791],[809,944]].forEach(p=>T((p[0]+p[1])/2,839,'Binding energy (eV)',{s:13,a:'c'}));
T(81,603,'g',{s:24,a:'c'});T(223,602,'h',{s:24,a:'c'});T(364,602,'i',{s:24,a:'c'});
T(519,603,'j',{s:24,a:'c'});T(667,602,'k',{s:24,a:'c'});T(818,603,'l',{s:24,a:'c'});
T(135,599,'Fe 2<i>p</i>',{s:12,a:'c'});T(280,599,'Cr 2<i>p</i>',{s:12,a:'c'});T(424,598,'F 1<i>s</i>',{s:12.5,a:'c'});
T(579,597,'N 1<i>s</i>',{s:12.5,a:'c'});T(732,598,'S 2<i>p</i>',{s:12,a:'c'});T(880,598,'B 1s',{s:12,a:'c'});
T(957,656,'FSI<sub>1</sub>DFOB<sub>0</sub>',{s:15});
T(957,718,'FSI<sub>5</sub>DFOB<sub>5</sub>',{s:15});
T(957,779,'FSI<sub>0</sub>DFOB<sub>1</sub>',{s:15});
</script>
</body></html>
